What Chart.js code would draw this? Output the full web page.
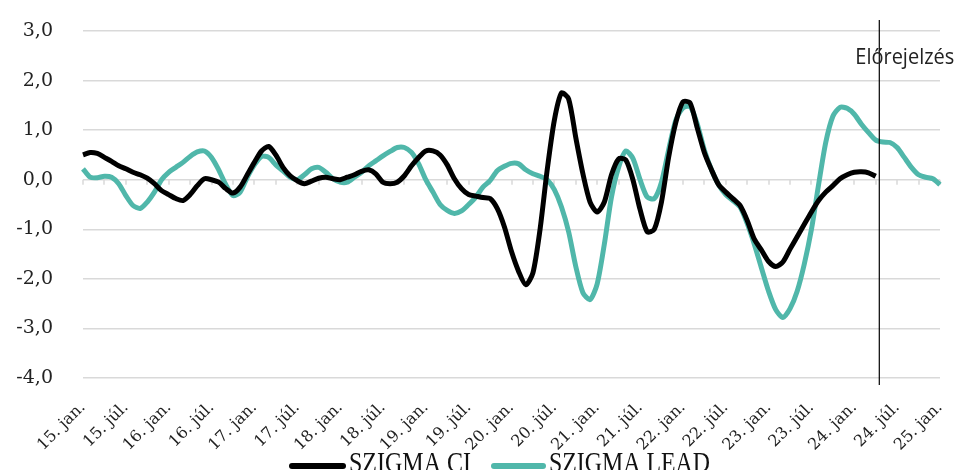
<!DOCTYPE html>
<html>
<head>
<meta charset="utf-8">
<script src="https://cdn.jsdelivr.net/npm/chart.js@4.4.1/dist/chart.umd.min.js"></script>
<style>
  html, body { margin: 0; padding: 0; background: #fff; }
  #wrap { width: 957px; height: 470px; }
</style>
</head>
<body>
<div id="wrap"><canvas id="chart" width="957" height="470"></canvas></div>
<script>
// half-year tick labels shown on the x axis
const tickLabels = ['15. jan.', '15. júl.', '16. jan.', '16. júl.', '17. jan.', '17. júl.', '18. jan.', '18. júl.',
  '19. jan.', '19. júl.', '20. jan.', '20. júl.', '21. jan.', '21. júl.', '22. jan.', '22. júl.',
  '23. jan.', '23. júl.', '24. jan.', '24. júl.', '25. jan.']

// monthly categories 2015-01 .. 2025-01
const years = ['2015', '2016', '2017', '2018', '2019', '2020', '2021', '2022', '2023', '2024', '2025']
const monthsOfYear = ['01', '02', '03', '04', '05', '06', '07', '08', '09', '10', '11', '12']
const categories = []
years.forEach(y => monthsOfYear.forEach(m => { if (categories.length < 121) categories.push(y + '-' + m) }))

// SZIGMA CI (ends 2024-04)
const szigmaCI = [
  0.50, 0.55, 0.53, 0.45, 0.37, 0.28, 0.22, 0.15, 0.10, 0.03, -0.08, -0.22,
  -0.30, -0.38, -0.42, -0.30, -0.12, 0.02, 0.00, -0.05, -0.18, -0.27, -0.15, 0.10,
  0.35, 0.58, 0.67, 0.50, 0.25, 0.08, -0.02, -0.08, -0.03, 0.03, 0.05, 0.02,
  0.00, 0.05, 0.10, 0.17, 0.20, 0.12, -0.05, -0.08, -0.05, 0.08, 0.28, 0.45,
  0.58, 0.58, 0.50, 0.30, 0.02, -0.18, -0.30, -0.33, -0.36, -0.38, -0.58, -0.95,
  -1.45, -1.85, -2.12, -1.88, -1.00, 0.20, 1.20, 1.75, 1.63, 0.85, 0.12, -0.45,
  -0.65, -0.45, 0.10, 0.42, 0.40, 0.00, -0.60, -1.05, -1.00, -0.45, 0.45, 1.15,
  1.57, 1.55, 1.05, 0.55, 0.20, -0.10, -0.25, -0.38, -0.52, -0.82, -1.20, -1.42,
  -1.65, -1.75, -1.66, -1.40, -1.15, -0.90, -0.65, -0.42, -0.25, -0.12, 0.02, 0.10,
  0.15, 0.16, 0.14, 0.07
]

// SZIGMA LEAD (runs to 2025-01)
const szigmaLead = [
  0.22, 0.05, 0.04, 0.07, 0.05, -0.08, -0.32, -0.52, -0.58, -0.45, -0.25, 0.00,
  0.15, 0.25, 0.35, 0.47, 0.56, 0.58, 0.45, 0.20, -0.10, -0.32, -0.25, 0.05,
  0.30, 0.47, 0.45, 0.30, 0.18, 0.05, 0.00, 0.10, 0.22, 0.25, 0.15, 0.02,
  -0.05, -0.05, 0.05, 0.15, 0.28, 0.38, 0.48, 0.57, 0.65, 0.65, 0.55, 0.32,
  0.00, -0.25, -0.50, -0.62, -0.68, -0.63, -0.50, -0.35, -0.15, -0.02, 0.18, 0.27,
  0.33, 0.32, 0.20, 0.12, 0.07, 0.00, -0.20, -0.55, -1.05, -1.75, -2.28, -2.42,
  -2.10, -1.30, -0.35, 0.25, 0.58, 0.43, 0.00, -0.35, -0.38, -0.05, 0.60, 1.20,
  1.45, 1.48, 1.13, 0.60, 0.20, -0.10, -0.30, -0.42, -0.55, -0.88, -1.30, -1.78,
  -2.25, -2.62, -2.78, -2.60, -2.25, -1.70, -1.00, -0.10, 0.75, 1.28, 1.46, 1.44,
  1.32, 1.12, 0.95, 0.80, 0.76, 0.75, 0.65, 0.45, 0.25, 0.10, 0.05, 0.02,
  -0.10
]

const yTicks = [3, 2, 1, 0, -1, -2, -3, -4]
const forecastAfter = 111   // last actual month index (2024-04)
const forecastText = 'Előrejelzés'

const TEAL = '#50b7aa'
const GRID = '#d9d9d9'

// zero-line tick marks, rotated x labels, forecast divider and legend
const extrasPlugin = {
  id: 'extras',
  beforeDatasetsDraw(chart) {
    const { ctx, chartArea, scales: { x, y } } = chart
    const y0 = y.getPixelForValue(0)
    ctx.save()
    ctx.strokeStyle = GRID
    ctx.lineWidth = 1.5
    for (let i = 0; i < categories.length; i += 3) {
      const px = Math.round(x.getPixelForValue(i))
      ctx.beginPath()
      ctx.moveTo(px, y0)
      ctx.lineTo(px, y0 + 5)
      ctx.stroke()
    }
    ctx.restore()

    // half-year labels at 45 degrees
    ctx.save()
    ctx.font = '16px "DejaVu Serif"'
    ctx.fillStyle = '#222'
    ctx.textAlign = 'right'
    ctx.textBaseline = 'middle'
    tickLabels.forEach((t, k) => {
      const px = x.getPixelForValue(k * 6)
      ctx.save()
      ctx.translate(px, chartArea.bottom + 27)
      ctx.rotate(-Math.PI / 4)
      ctx.fillText(t, 0, 0)
      ctx.restore()
    })
    ctx.restore()
  },
  afterDatasetsDraw(chart) {
    const { ctx, chartArea, scales: { x } } = chart
    const vx = (x.getPixelForValue(forecastAfter) + x.getPixelForValue(forecastAfter + 1)) / 2
    ctx.save()
    ctx.strokeStyle = '#000'
    ctx.lineWidth = 1.2
    ctx.beginPath()
    ctx.moveTo(vx, chartArea.top - 11)
    ctx.lineTo(vx, chartArea.bottom + 7)
    ctx.stroke()

    // label, squeezed to the reference width
    ctx.font = '21px "Open Sans"'
    ctx.fillStyle = '#222'
    ctx.textBaseline = 'alphabetic'
    const tw = ctx.measureText(forecastText).width
    ctx.translate(vx - 24, 64)
    ctx.scale(99 / tw, 1)
    ctx.fillText(forecastText, 0, 0)
    ctx.restore()

    // legend
    const items = [
      { text: 'SZIGMA CI', color: '#000', x0: 292, x1: 343, tx: 349, tw: 122 },
      { text: 'SZIGMA LEAD', color: TEAL, x0: 494, x1: 543, tx: 549, tw: 161 }
    ]
    items.forEach(it => {
      ctx.save()
      ctx.strokeStyle = it.color
      ctx.lineWidth = 6
      ctx.lineCap = 'round'
      ctx.beginPath()
      ctx.moveTo(it.x0, 466)
      ctx.lineTo(it.x1, 466)
      ctx.stroke()
      ctx.font = '30px "Liberation Serif"'
      ctx.fillStyle = '#111'
      const w = ctx.measureText(it.text).width
      ctx.translate(it.tx, 472)
      ctx.scale(it.tw / w, 1)
      ctx.fillText(it.text, 0, 0)
      ctx.restore()
    })
  }
}

const ctx = document.getElementById('chart').getContext('2d')
window._sigmaChart = new Chart(ctx, {
  type: 'line',
  data: {
    labels: categories,
    datasets: [
      { label: 'SZIGMA CI', data: szigmaCI, borderColor: '#000', backgroundColor: '#000', borderWidth: 5, pointRadius: 0, tension: 0.25 },
      { label: 'SZIGMA LEAD', data: szigmaLead, borderColor: TEAL, backgroundColor: TEAL, borderWidth: 5, pointRadius: 0, tension: 0.25 }
    ]
  },
  options: {
    responsive: false,
    animation: false,
    devicePixelRatio: 1,
    layout: { padding: { top: 31, right: 17, left: 0, bottom: 0 } },
    plugins: { legend: { display: false }, tooltip: { enabled: false } },
    scales: {
      x: {
        type: 'category',
        offset: false,
        grid: { display: false, drawTicks: false },
        border: { display: false },
        afterFit: (s) => { s.height = 92 },
        ticks: { display: false }
      },
      y: {
        min: -4,
        max: 3,
        afterFit: (s) => { s.width = 83; s.paddingTop = 0; s.paddingBottom = 0 },
        afterBuildTicks: (s) => { s.ticks = yTicks.map(v => ({ value: v })) },
        grid: { color: GRID, lineWidth: 1.5, drawTicks: false },
        border: { display: false },
        ticks: {
          padding: 30,
          color: '#222',
          font: { family: '"DejaVu Serif"', size: 19 },
          callback: (v) => Number(v).toFixed(1).replace('.', ',')
        }
      }
    }
  },
  plugins: [extrasPlugin]
})
</script>
</body>
</html>
